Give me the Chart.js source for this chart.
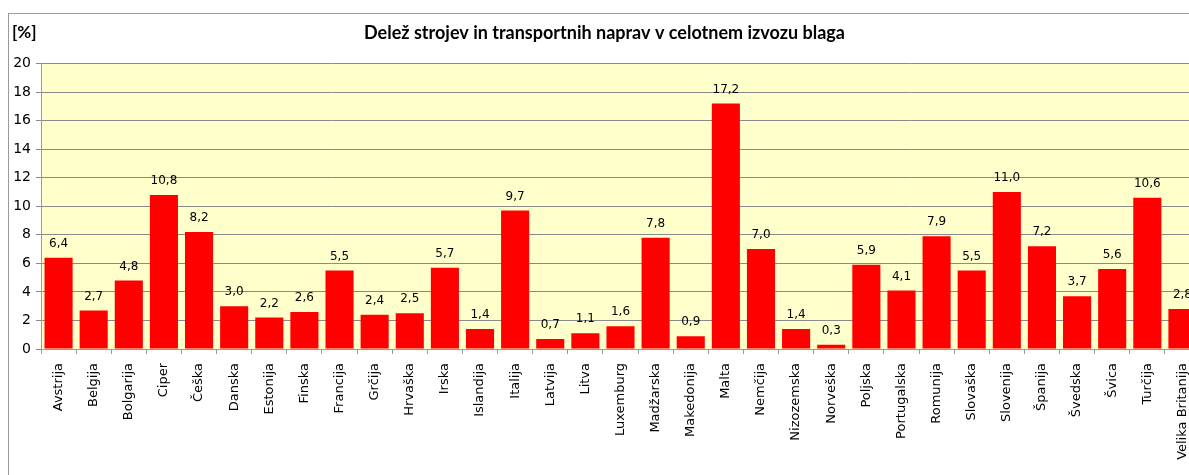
<!DOCTYPE html>
<html>
<head>
<meta charset="utf-8">
<script src="https://cdn.jsdelivr.net/npm/chart.js@4/dist/chart.umd.min.js"></script>
<style>
  html, body { margin: 0; padding: 0; background: #fff; overflow: hidden; width: 1189px; height: 475px; }
  #box { position: absolute; left: 8px; top: 13px; width: 1215px; height: 480px; border: 1px solid #9a9a9a; box-sizing: border-box; background: #fff; }
  #c { position: absolute; left: 0; top: 0; }
</style>
</head>
<body>
<div id="box"><canvas id="c" width="1213" height="478"></canvas></div>
<script>
const categories = ["Avstrija","Belgija","Bolgarija","Ciper","Češka","Danska","Estonija","Finska","Francija","Grčija","Hrvaška","Irska","Islandija","Italija","Latvija","Litva","Luxemburg","Madžarska","Makedonija","Malta","Nemčija","Nizozemska","Norveška","Poljska","Portugalska","Romunija","Slovaška","Slovenija","Španija","Švedska","Švica","Turčija","Velika Britanija"];
const shares = [6.4,2.7,4.8,10.8,8.2,3.0,2.2,2.6,5.5,2.4,2.5,5.7,1.4,9.7,0.7,1.1,1.6,7.8,0.9,17.2,7.0,1.4,0.3,5.9,4.1,7.9,5.5,11.0,7.2,3.7,5.6,10.6,2.8];
const yTicks = [0,2,4,6,8,10,12,14,16,18,20];
const titleText = "Delež strojev in transportnih naprav v celotnem izvozu blaga";
const unitText = "[%]";

const bgPlugin = {
  id: 'bg',
  beforeDraw(chart) {
    const a = chart.chartArea, ctx = chart.ctx;
    ctx.save();
    ctx.fillStyle = '#FFFFCC';
    ctx.fillRect(a.left, a.top, a.right - a.left, a.bottom - a.top);
    ctx.restore();
  }
};
const labelPlugin = {
  id: 'vals',
  afterDatasetsDraw(chart) {
    const ctx = chart.ctx;
    const meta = chart.getDatasetMeta(0);
    ctx.save();
    ctx.font = '12px "DejaVu Sans"';
    ctx.fillStyle = '#000';
    ctx.textAlign = 'center';
    ctx.textBaseline = 'middle';
    meta.data.forEach((bar, i) => {
      ctx.fillText(shares[i].toFixed(1).replace('.', ','), bar.x, bar.y - 14);
    });
    ctx.restore();
  },
  afterDraw(chart) {
    const ctx = chart.ctx;
    ctx.save();
    ctx.font = 'bold 17px Lato';
    ctx.fillStyle = '#000';
    ctx.textAlign = 'left';
    ctx.textBaseline = 'middle';
    ctx.fillText(unitText, 3, 19);
    ctx.restore();
  }
};

new Chart(document.getElementById('c'), {
  type: 'bar',
  data: {
    labels: categories,
    datasets: [{ data: shares, backgroundColor: '#FF0000', borderWidth: 0, barPercentage: 0.8, categoryPercentage: 1.0 }]
  },
  options: {
    responsive: false,
    animation: false,
    devicePixelRatio: 1,
    layout: { padding: { left: 0, right: 22, top: 0, bottom: 0 } },
    plugins: {
      legend: { display: false },
      tooltip: { enabled: false },
      title: {
        display: true,
        text: titleText,
        color: '#000',
        font: { family: 'Lato', weight: 'bold', size: 18, lineHeight: 1.2 },
        padding: { top: 8, bottom: 20 },
        align: 'center'
      }
    },
    scales: {
      x: {
        grid: { display: true, drawOnChartArea: false, drawTicks: true, tickLength: 5, color: '#9a9a9a', offset: true },
        border: { display: true, color: '#9a9a9a' },
        ticks: { color: '#000', font: { family: 'DejaVu Sans', size: 13 }, maxRotation: 90, minRotation: 90, autoSkip: false, padding: 9 },
        afterFit(s) { s.height = 143; }
      },
      y: {
        min: 0, max: 20,
        afterBuildTicks(s) { s.ticks = yTicks.map(v => ({ value: v })); },
        grid: { color: '#8a8a8a', tickLength: 5, drawTicks: true },
        border: { display: true, color: '#9a9a9a' },
        ticks: { color: '#000', font: { family: 'DejaVu Sans', size: 14 }, padding: 5 },
        afterFit(s) { s.width = 32; }
      }
    }
  },
  plugins: [bgPlugin, labelPlugin]
});
</script>
</body>
</html>
